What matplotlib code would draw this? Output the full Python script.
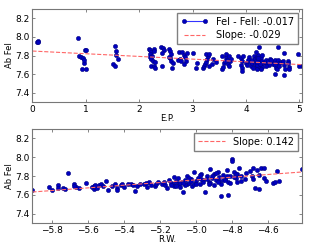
import numpy as np
import matplotlib
matplotlib.use('Agg')
import matplotlib.pyplot as plt
from matplotlib.lines import Line2D

# excitation potential vs abundance (top panel)
ep = [0.09, 0.10, 0.11,
      0.86, 0.87, 0.91, 0.94, 0.96, 0.93, 1.00, 0.99, 1.01, 0.96,
      1.50, 1.55, 1.55, 1.56, 1.56, 1.60,
      2.18, 2.20, 2.22, 2.20, 2.24, 2.20, 2.22, 2.27, 2.26, 2.22, 2.28, 2.29, 2.30, 2.28,
      2.41, 2.44, 2.47, 2.43, 2.42, 2.56, 2.58, 2.60, 2.57, 2.60, 2.63, 2.62, 2.56,
      2.75, 2.80, 2.83, 2.85, 2.77, 2.72, 2.79, 2.88, 2.84, 2.90,
      3.00, 3.06, 3.08, 3.20, 3.22, 3.23, 3.25, 3.27, 3.28, 3.25, 3.30, 3.30, 3.36, 3.38, 3.43,
      3.55, 3.57, 3.58, 3.56, 3.62, 3.64, 3.66, 3.68, 3.63, 3.69, 3.70, 3.60, 3.72,
      3.85, 3.90, 3.92, 3.90, 3.92, 3.92, 3.95, 4.00, 4.02, 4.05, 4.04, 4.08,
      4.10, 4.12, 4.12, 4.14, 4.15, 4.17, 4.18, 4.18, 4.20, 4.20, 4.20, 4.22, 4.23,
      4.22, 4.24, 4.25, 4.26, 4.28, 4.28, 4.30, 4.30, 4.32, 4.30, 4.18, 4.25, 4.28,
      4.16, 4.19, 4.21, 4.23, 4.26, 4.21,
      4.36, 4.38, 4.40, 4.42, 4.44, 4.45, 4.48, 4.50, 4.38, 4.47,
      4.55, 4.56, 4.55, 4.57, 4.55, 4.58, 4.60, 4.62, 4.62, 4.65, 4.60,
      4.70, 4.72, 4.72, 4.72, 4.74, 4.78, 4.79, 4.80, 4.80,
      4.98, 5.05, 5.00]
ab_ep = [7.94, 7.96, 7.95,
         7.99, 7.79, 7.78, 7.77, 7.72, 7.65, 7.65, 7.86, 7.86, 7.75,
         7.71, 7.69, 7.90, 7.85, 7.81, 7.76,
         7.87, 7.86, 7.84, 7.82, 7.80, 7.78, 7.76, 7.87, 7.74, 7.69, 7.69, 7.67, 7.73, 7.85,
         7.89, 7.88, 7.86, 7.83, 7.69, 7.87, 7.85, 7.82, 7.77, 7.74, 7.72, 7.67, 7.78,
         7.84, 7.84, 7.81, 7.78, 7.76, 7.75, 7.74, 7.74, 7.71, 7.83,
         7.83, 7.67, 7.72, 7.67, 7.69, 7.71, 7.73, 7.76, 7.79, 7.82, 7.82, 7.69, 7.71, 7.76, 7.73,
         7.65, 7.68, 7.72, 7.79, 7.78, 7.75, 7.71, 7.69, 7.82, 7.80, 7.74, 7.74, 7.76,
         7.79, 7.77, 7.74, 7.70, 7.67, 7.63, 7.79, 7.72, 7.70, 7.78, 7.75, 7.73,
         7.69, 7.72, 7.75, 7.67, 7.80, 7.76, 7.73, 7.70, 7.78, 7.67, 7.65, 7.81, 7.75,
         7.72, 7.69, 7.73, 7.76, 7.78, 7.71, 7.74, 7.68, 7.72, 7.81, 7.84, 7.89, 7.66,
         7.71, 7.74, 7.70, 7.77, 7.71, 7.73,
         7.73, 7.75, 7.72, 7.74, 7.70, 7.76, 7.73, 7.71, 7.69, 7.75,
         7.75, 7.72, 7.70, 7.67, 7.60, 7.65, 7.75, 7.72, 7.69, 7.73, 7.89,
         7.74, 7.70, 7.83, 7.59, 7.66, 7.74, 7.72, 7.68, 7.65,
         7.82, 7.69, 7.69]

# reduced width vs abundance (bottom panel)
rw = [-5.91,
      -5.82, -5.80, -5.77, -5.77, -5.74, -5.73, -5.71,
      -5.68, -5.67, -5.65, -5.68,
      -5.61, -5.58, -5.57, -5.57, -5.56, -5.55, -5.54, -5.53, -5.56, -5.52,
      -5.50, -5.49, -5.47, -5.45, -5.44, -5.44, -5.42, -5.41, -5.40, -5.38,
      -5.36, -5.35, -5.34, -5.33, -5.31, -5.29, -5.28, -5.27, -5.26, -5.25,
      -5.23, -5.22, -5.21, -5.19,
      -5.17, -5.16, -5.15, -5.14, -5.13, -5.12, -5.11, -5.10, -5.10, -5.09,
      -5.08, -5.07, -5.06, -5.05, -5.05, -5.04, -5.03, -5.02, -5.01, -5.00,
      -4.99, -4.98, -4.97, -4.96, -4.95, -4.94, -4.93, -4.92, -4.91, -4.90,
      -4.90, -4.89, -4.88, -4.87, -4.86, -4.86, -4.85, -4.84, -4.83, -4.82,
      -4.82, -4.81, -4.80, -4.80, -4.79, -4.78, -4.77, -4.76, -4.75, -4.73,
      -4.70, -4.69, -4.68, -4.68, -4.67, -4.66, -4.65, -4.65, -4.64, -4.62,
      -4.62, -4.61, -4.57, -4.56, -4.55, -4.54, -4.41,
      -5.18, -5.14, -5.12, -5.09, -5.06, -5.03, -5.01, -4.98, -4.96, -4.94,
      -4.92, -4.89, -4.87, -4.85, -4.83, -4.81, -4.79, -4.77, -4.75, -4.72,
      -5.11, -5.07, -5.04, -5.00, -4.97, -4.93, -4.91, -4.88, -4.84, -4.78]
ab_rw = [7.65,
         7.68, 7.65, 7.70, 7.67, 7.67, 7.66, 7.83,
         7.71, 7.68, 7.67, 7.69,
         7.73, 7.68, 7.69, 7.66, 7.68, 7.67, 7.70, 7.71, 7.70, 7.69,
         7.75, 7.65, 7.69, 7.71, 7.67, 7.65, 7.70, 7.72, 7.68, 7.72,
         7.71, 7.70, 7.64, 7.69, 7.71, 7.71, 7.73, 7.68, 7.74, 7.70,
         7.69, 7.72, 7.74, 7.72,
         7.70, 7.67, 7.76, 7.73, 7.71, 7.69, 7.75, 7.78, 7.72, 7.68,
         7.74, 7.63, 7.76, 7.71, 7.80, 7.73, 7.77, 7.69, 7.84, 7.75,
         7.78, 7.72, 7.82, 7.76, 7.63, 7.80, 7.74, 7.87, 7.78, 7.82,
         7.70, 7.76, 7.84, 7.79, 7.72, 7.59, 7.81, 7.77, 7.86, 7.74,
         7.60, 7.80, 7.98, 7.96, 7.84, 7.78, 7.74, 7.88, 7.80, 7.77,
         7.85, 7.80, 7.77, 7.89, 7.67, 7.86, 7.81, 7.66, 7.89, 7.89,
         7.78, 7.75, 7.73, 7.74, 7.85, 7.75, 7.87,
         7.74, 7.70, 7.79, 7.73, 7.70, 7.75, 7.72, 7.81, 7.74, 7.77,
         7.73, 7.83, 7.75, 7.76, 7.80, 7.73, 7.79, 7.82, 7.75, 7.83,
         7.69, 7.73, 7.78, 7.71, 7.77, 7.72, 7.80, 7.74, 7.76, 7.82]

ep_slope = -0.029
ep_icept = 7.848
rw_slope = 0.142
rw_icept = 8.469
feI_feII = -0.017

ep_lim = [0, 5.05]
rw_lim = [-5.91, -4.41]
ab_lim = [7.3, 8.3]

plt.rcParams['font.family'] = 'DejaVu Sans'
plt.rcParams['xtick.direction'] = 'in'
plt.rcParams['ytick.direction'] = 'in'

fig = plt.figure(figsize=(3.12, 2.5), dpi=100, facecolor='white')
ax1 = fig.add_axes([0.104, 0.592, 0.864, 0.372])
ax2 = fig.add_axes([0.104, 0.108, 0.864, 0.376])

dotcol = '#0000c0'
dotkw = dict(linestyle='None', marker='o', markersize=3.0,
             markerfacecolor=dotcol, markeredgecolor='#000080',
             markeredgewidth=0.4)
fitkw = dict(color='#ff6666', linestyle='--', linewidth=0.8)

# top: E.P.
ax1.plot(ep, ab_ep, **dotkw)
xx = np.array(ep_lim)
ax1.plot(xx, ep_icept + ep_slope * xx, **fitkw)
h1 = Line2D([], [], color='#3333ff', linewidth=0.8, marker='o', markersize=3.0,
            markerfacecolor=dotcol, markeredgecolor='#000080', markeredgewidth=0.4)
h2 = Line2D([], [], **fitkw)
ax1.legend([h1, h2], ['FeI - FeII: %.3f' % feI_feII, 'Slope: %.3f' % ep_slope],
           loc='upper right', numpoints=2, fontsize=7, fancybox=False,
           framealpha=1, edgecolor='#808080', handlelength=2.8,
           borderaxespad=0.4, labelspacing=0.35)
ax1.set_xlim(ep_lim)
ax1.set_ylim(ab_lim)
ax1.set_xlabel('E.P.', fontsize=6, labelpad=0)
ax1.set_ylabel('Ab FeI', fontsize=6, labelpad=1)

# bottom: R.W.
ax2.plot(rw, ab_rw, **dotkw)
xx = np.array(rw_lim)
ax2.plot(xx, rw_icept + rw_slope * xx, **fitkw)
ax2.legend([Line2D([], [], **fitkw)], ['Slope: %.3f' % rw_slope],
           loc='upper right', fontsize=7, fancybox=False, framealpha=1,
           edgecolor='#808080', handlelength=2.8, borderaxespad=0.4)
ax2.set_xlim(rw_lim)
ax2.set_ylim(ab_lim)
ax2.set_xticks([-5.8, -5.6, -5.4, -5.2, -5.0, -4.8, -4.6])
ax2.set_xlabel('R.W.', fontsize=6, labelpad=0)
ax2.set_ylabel('Ab FeI', fontsize=6, labelpad=1)

for ax in (ax1, ax2):
    ax.set_yticks([7.4, 7.6, 7.8, 8.0, 8.2])
    ax.tick_params(labelsize=6.5, length=2.5, width=0.5, top=True, right=True,
                   pad=2, color='#555555')
    for s in ax.spines.values():
        s.set_linewidth(0.8)
        s.set_color('#777777')

fig.savefig('out.png', dpi=100, facecolor='white')
